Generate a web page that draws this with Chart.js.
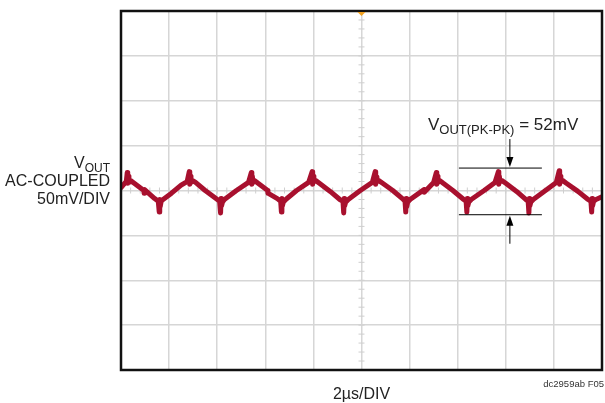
<!DOCTYPE html>
<html>
<head>
<meta charset="utf-8">
<script src="https://cdn.jsdelivr.net/npm/chart.js@4/dist/chart.umd.min.js"></script>
<style>
  html, body { margin: 0; padding: 0; background: #fff; }
  canvas { display: block; }
</style>
</head>
<body>
<canvas id="scope" width="605" height="403"></canvas>
<script>
// time in µs (2µs/DIV, 10 divisions)
const timeUs = [
    0.00, 0.12, 0.22, 0.26, 0.28, 0.30, 0.33, 0.40, 0.55, 0.95, 0.96, 0.98, 1.40, 1.55, 1.59, 1.61, 1.63, 1.67, 1.75,
    2.10, 2.50, 2.75, 2.84, 2.86, 2.88, 2.91, 2.98, 3.10, 3.50, 3.95, 4.10, 4.14, 4.16, 4.18, 4.22, 4.30,
    4.80, 5.30, 5.42, 5.44, 5.46, 5.49, 5.56, 5.70, 6.10, 6.11, 6.50, 6.64, 6.67, 6.69, 6.71, 6.75, 6.85,
    7.30, 7.80, 7.95, 7.97, 7.99, 8.02, 8.10, 8.25, 8.70, 9.10, 9.23, 9.26, 9.28, 9.30, 9.34, 9.45,
    9.95, 10.45, 10.57, 10.59, 10.61, 10.64, 10.72, 10.88, 11.30, 11.70, 11.81, 11.84, 11.86, 11.88, 11.92, 12.02,
    12.60, 12.61, 13.00, 13.11, 13.13, 13.15, 13.18, 13.26, 13.40, 13.80, 14.25, 14.35, 14.38, 14.40, 14.42, 14.46, 14.56,
    15.10, 15.55, 15.69, 15.71, 15.73, 15.76, 15.84, 16.00, 16.45, 16.83, 16.93, 16.96, 16.98, 17.00, 17.04, 17.14,
    17.65, 18.10, 18.22, 18.24, 18.26, 18.29, 18.37, 18.52, 19.00, 19.42, 19.54, 19.57, 19.59, 19.61, 19.65, 19.75,
    20.00
];
// VOUT, AC coupled, in mV (50mV/DIV)
const vOutMv = [
    3, 7, 10, 20, 8, 16, 9, 11, 8, 0, -3, 1, -9, -12, -24, -10, -18, -12, -10,
    -3, 6, 10, 21, 7, 16, 9, 11, 9, 0, -9, -12, -25, -9, -17, -13, -10,
    0, 9, 20, 7, 16, 9, 11, 8, 0, -3, -9, -12, -24, -9, -17, -13, -10,
    0, 9, 21, 7, 16, 10, 11, 8, -1, -10, -12, -25, -9, -17, -13, -10,
    0, 9, 21, 7, 15, 10, 11, 8, 0, -9, -12, -24, -9, -18, -13, -10,
    1, -2, 9, 20, 7, 16, 9, 11, 8, 0, -10, -12, -24, -9, -17, -13, -10,
    0, 9, 21, 7, 16, 10, 11, 8, -1, -10, -12, -25, -9, -17, -13, -10,
    0, 9, 22, 7, 16, 10, 11, 8, -1, -10, -12, -24, -9, -17, -12, -10,
    -7
];
const xTicks = [0, 2, 4, 6, 8, 10, 12, 14, 16, 18, 20];
const yTicks = [-200, -150, -100, -50, 0, 50, 100, 150, 200];
const pkPkTop = 25;     // mV
const pkPkBottom = -27; // mV
const pkPkFrom = 14.05; // µs
const pkPkTo = 17.5;    // µs
const pkPkArrowAt = 16.17;

const FONT = '"Liberation Sans", Arial, sans-serif';

function sub(ctx, x, y, main, small, size, subSize, align) {
    ctx.font = size + 'px ' + FONT;
    const w1 = ctx.measureText(main).width;
    ctx.font = subSize + 'px ' + FONT;
    const w2 = ctx.measureText(small).width;
    let x0 = x;
    if (align === 'right') x0 = x - w1 - w2;
    ctx.textAlign = 'left';
    ctx.font = size + 'px ' + FONT;
    ctx.fillText(main, x0, y);
    ctx.font = subSize + 'px ' + FONT;
    ctx.fillText(small, x0 + w1, y + 4);
    return x0 + w1 + w2;
}

function arrow(ctx, x, yFrom, yTo) {
    const dir = yTo > yFrom ? 1 : -1;
    ctx.beginPath();
    ctx.moveTo(x, yFrom);
    ctx.lineTo(x, yTo - dir * 8);
    ctx.stroke();
    ctx.beginPath();
    ctx.moveTo(x, yTo);
    ctx.lineTo(x - 3.5, yTo - dir * 10);
    ctx.lineTo(x + 3.5, yTo - dir * 10);
    ctx.closePath();
    ctx.fill();
}

const scopeDecor = {
    id: 'scopeDecor',
    beforeDatasetsDraw(chart) {
        const { ctx, scales: { x, y } } = chart;
        const cx = x.getPixelForValue(10), cy = y.getPixelForValue(0);
        ctx.save();
        ctx.strokeStyle = '#cfcfcf';
        ctx.lineWidth = 1;
        for (let t = 0; t <= 20.001; t += 0.4) {
            const px = x.getPixelForValue(t);
            ctx.beginPath(); ctx.moveTo(px, cy - 3); ctx.lineTo(px, cy + 3); ctx.stroke();
        }
        for (let v = -200; v <= 200.001; v += 10) {
            const py = y.getPixelForValue(v);
            ctx.beginPath(); ctx.moveTo(cx - 3, py); ctx.lineTo(cx + 3, py); ctx.stroke();
        }
        ctx.restore();
    },
    afterDraw(chart) {
        const { ctx, chartArea: a, scales: { x, y } } = chart;
        ctx.save();
        // frame
        ctx.strokeStyle = '#111';
        ctx.lineWidth = 2.5;
        ctx.strokeRect(a.left, a.top, a.right - a.left, a.bottom - a.top);

        // trigger marker
        const cx = x.getPixelForValue(10);
        ctx.fillStyle = '#f0a020';
        ctx.beginPath();
        ctx.moveTo(cx - 4, a.top + 1);
        ctx.lineTo(cx + 4, a.top + 1);
        ctx.lineTo(cx, a.top + 5);
        ctx.closePath();
        ctx.fill();

        // peak-to-peak markers
        ctx.strokeStyle = '#000';
        ctx.fillStyle = '#000';
        ctx.lineWidth = 1;
        const yt = y.getPixelForValue(pkPkTop), yb = y.getPixelForValue(pkPkBottom);
        const x1 = x.getPixelForValue(pkPkFrom), x2 = x.getPixelForValue(pkPkTo);
        const xa = x.getPixelForValue(pkPkArrowAt);
        ctx.beginPath();
        ctx.moveTo(x1, yt); ctx.lineTo(x2, yt);
        ctx.moveTo(x1, yb); ctx.lineTo(x2, yb);
        ctx.stroke();
        arrow(ctx, xa, yt - 29, yt - 1);
        arrow(ctx, xa, yb + 29, yb + 1);

        ctx.fillStyle = '#222';
        ctx.textBaseline = 'alphabetic';
        const end = sub(ctx, 428, 130, 'V', 'OUT(PK-PK)', 17, 13, 'left');
        ctx.font = '17px ' + FONT;
        ctx.fillText(' = 52mV', end, 130);

        // left label
        sub(ctx, 110, 168, 'V', 'OUT', 16, 12, 'right');
        ctx.textAlign = 'right';
        ctx.font = '16px ' + FONT;
        ctx.fillText('AC-COUPLED', 110, 186);
        ctx.fillText('50mV/DIV', 110, 204);

        ctx.textAlign = 'center';
        ctx.fillText('2µs/DIV', cx, 399);

        ctx.textAlign = 'right';
        ctx.font = '9.5px ' + FONT;
        ctx.fillStyle = '#333';
        ctx.fillText('dc2959ab F05', 604, 387);
        ctx.restore();
    }
};

new Chart(document.getElementById('scope'), {
    type: 'line',
    data: {
        datasets: [{
            data: timeUs.map((t, i) => ({ x: t, y: vOutMv[i] })),
            borderColor: '#a8102e',
            borderWidth: 5,
            borderJoinStyle: 'round',
            borderCapStyle: 'round',
            pointRadius: 0,
            tension: 0,
            fill: false
        }]
    },
    options: {
        responsive: false,
        animation: false,
        events: [],
        layout: { padding: { left: 121, top: 11, right: 3, bottom: 33 } },
        plugins: { legend: { display: false }, tooltip: { enabled: false } },
        scales: {
            x: {
                type: 'linear', min: 0, max: 20,
                afterBuildTicks: s => { s.ticks = xTicks.map(v => ({ value: v })); },
                ticks: { display: false },
                grid: { color: '#d6d6d6', lineWidth: 1.5, drawTicks: false },
                border: { display: false }
            },
            y: {
                type: 'linear', min: -200, max: 200,
                afterBuildTicks: s => { s.ticks = yTicks.map(v => ({ value: v })); },
                ticks: { display: false },
                grid: { color: '#d6d6d6', lineWidth: 1.5, drawTicks: false },
                border: { display: false }
            }
        }
    },
    plugins: [scopeDecor]
});
</script>
</body>
</html>
